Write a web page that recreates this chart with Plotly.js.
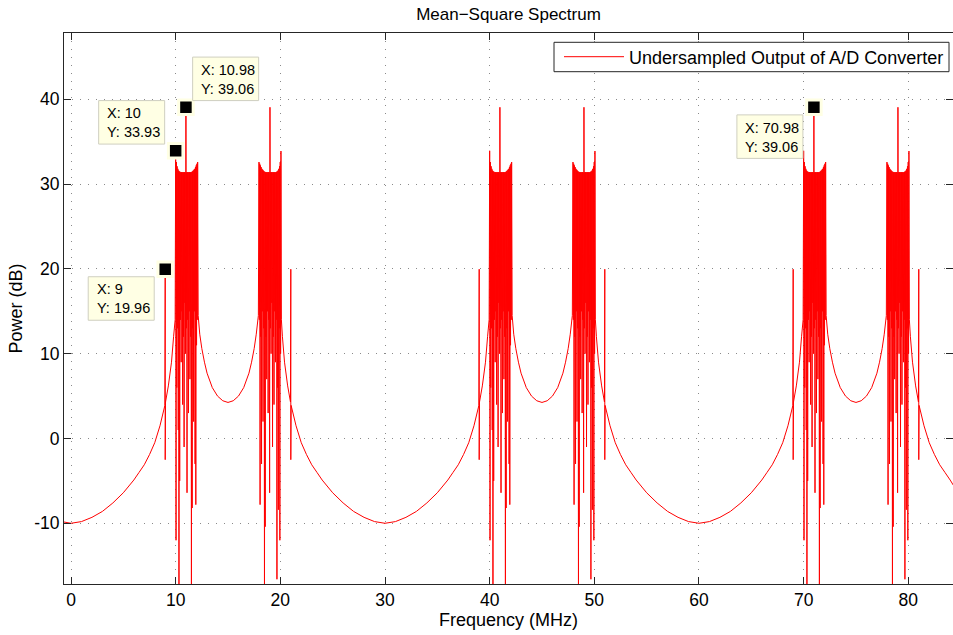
<!DOCTYPE html>
<html>
<head>
<meta charset="utf-8">
<script src="https://cdn.plot.ly/plotly-3.0.1.min.js"></script>
<style>
html,body{margin:0;padding:0;background:#fff;}
#chart{width:953px;height:635px;}
</style>
</head>
<body>
<div id="chart"></div>
<script>
// ---------- data ----------
const seriesName = 'Undersampled Output of A/D Converter';

// smooth floor from the left edge up to the first band (with the lone spur at 9 MHz)
const floorStartFreq  = [-0.67, 0, 1, 2, 3, 4, 5, 6, 6.5, 7, 7.5, 8, 8.5, 8.97, 9.0, 9.0, 9.03, 9.3, 9.6, 9.8, 9.95];
const floorStartPower = [-9.85, -10, -9.8, -9.3, -8.6, -7.6, -6.4, -4.9, -4.0, -3.1, -1.9, -0.5, 1.5, 3.9, 19.96, -2.5, 4.3, 6.2, 9.0, 12.0, 14.0];

// lower image band (10–12.1 MHz, repeated at 40 and 70 MHz): alternating peak / dip samples
const bandLowerStart = [10.0, 40.0, 70.0];
const bandLowerPower = [
  33.93, -12, 32.6, 6, 32.1, 13, 31.8, 1, 31.6, -19, 31.5, -5, 31.45, 14, 31.4, 9,
  31.4, 15, 31.4, 4, 31.4, 12, 31.4, -1, 31.4, 16, 31.4, 10, 39.06, 13, 31.4, -6.4,
  31.4, 14, 31.4, 3, 31.4, 15, 31.4, 7, 31.4, 12, 31.4, -20, 31.45, -8.2, 31.5, 13,
  31.6, 2, 31.7, 15, 31.8, -3, 32.0, -7.8, 32.2, 11, 32.4, 14, 32.6
];

// upper image band (≈18–20.06 MHz, repeated at 48 and 78 MHz)
const bandUpperStart = [17.96, 47.96, 77.96];
const bandUpperPower = [
  32.6, 14, 32.4, -7.8, 32.2, 12, 32.0, -3, 31.8, 15, 31.7, 2, 31.6, 13, 31.5, -20,
  31.45, -10.4, 31.4, 12, 31.4, 7, 31.4, 15, 31.4, 3, 31.4, 14, 31.4, -6.4, 39.06, 13,
  31.4, 10, 31.4, 16, 31.4, -1, 31.4, 12, 31.4, 4, 31.4, 15, 31.4, 9, 31.4, 14,
  31.45, -16.6, 31.5, 6, 31.6, -8.4, 31.8, 13, 32.1, -12, 32.6, 10, 33.9
];
const bandStep = 0.035; // MHz between samples inside a band

// floor between the two bands of a pair (minimum near 15, 45, 75 MHz)
const innerGapFreq1 = [12.15, 12.3, 12.5, 12.75, 13, 13.5, 14, 14.5, 15, 15.5, 16, 16.5, 17, 17.25, 17.5, 17.7, 17.9];
const innerGapFreq2 = [42.15, 42.3, 42.5, 42.75, 43, 43.5, 44, 44.5, 45, 45.5, 46, 46.5, 47, 47.25, 47.5, 47.7, 47.9];
const innerGapFreq3 = [72.15, 72.3, 72.5, 72.75, 73, 73.5, 74, 74.5, 75, 75.5, 76, 76.5, 77, 77.25, 77.5, 77.7, 77.9];
const innerGapPower = [14.5, 12.3, 10.6, 9.0, 7.7, 6.0, 5.0, 4.45, 4.25, 4.45, 5.0, 6.0, 7.7, 9.0, 10.6, 12.3, 14.5];

// floor between band pairs (minimum near 30 and 60 MHz, spurs at 21/39 and 51/69 MHz)
const outerGapFreq1 = [20.1, 20.2, 20.4, 20.7, 20.97, 21.0, 21.0, 21.03, 21.5, 22, 22.5, 23, 23.5, 24, 25, 26, 27, 28, 29, 30,
                       31, 32, 33, 34, 35, 36, 36.5, 37, 37.5, 38, 38.5, 38.97, 39.0, 39.0, 39.03, 39.3, 39.6, 39.8, 39.95];
const outerGapFreq2 = [50.1, 50.2, 50.4, 50.7, 50.97, 51.0, 51.0, 51.03, 51.5, 52, 52.5, 53, 53.5, 54, 55, 56, 57, 58, 59, 60,
                       61, 62, 63, 64, 65, 66, 66.5, 67, 67.5, 68, 68.5, 68.97, 69.0, 69.0, 69.03, 69.3, 69.6, 69.8, 69.95];
const outerGapPower = [14.0, 12.0, 9.0, 6.2, 4.3, 19.96, -2.5, 3.9, 1.5, -0.5, -1.9, -3.1, -4.0, -4.9, -6.4, -7.6, -8.6, -9.3, -9.8, -10,
                       -9.8, -9.3, -8.6, -7.6, -6.4, -4.9, -4.0, -3.1, -1.9, -0.5, 1.5, 3.9, 19.96, -2.5, 4.3, 6.2, 9.0, 12.0, 14.0];

// floor after the last band up to the right edge
const floorEndFreq  = [80.1, 80.2, 80.4, 80.7, 80.97, 81.0, 81.0, 81.03, 81.5, 82, 82.5, 83, 83.5, 84, 84.3];
const floorEndPower = [14.0, 12.0, 9.0, 6.2, 4.3, 19.96, -2.5, 3.9, 1.5, -0.5, -1.9, -3.1, -4.0, -4.9, -5.5];

// data tips
const tipFreq  = [9, 10, 10.98, 70.98];
const tipPower = [19.96, 33.93, 39.06, 39.06];

// ticks
const xTickVals = [0, 10, 20, 30, 40, 50, 60, 70, 80];
const xTickText = ['0', '10', '20', '30', '40', '50', '60', '70', '80'];
const yTickVals = [-10, 0, 10, 20, 30, 40];
const yTickText = ['-10', '0', '10', '20', '30', '40'];

// ---------- assemble the single spectrum trace ----------
const specX = [], specY = [];
function addSeg(fx, py) { for (let i = 0; i < py.length; i++) { specX.push(fx[i]); specY.push(py[i]); } }
function addBand(start, py) {
  for (let i = 0; i < py.length; i++) { specX.push(Math.round((start + i * bandStep) * 10000) / 10000); specY.push(py[i]); }
}
addSeg(floorStartFreq, floorStartPower);
addBand(bandLowerStart[0], bandLowerPower);
addSeg(innerGapFreq1, innerGapPower);
addBand(bandUpperStart[0], bandUpperPower);
addSeg(outerGapFreq1, outerGapPower);
addBand(bandLowerStart[1], bandLowerPower);
addSeg(innerGapFreq2, innerGapPower);
addBand(bandUpperStart[1], bandUpperPower);
addSeg(outerGapFreq2, outerGapPower);
addBand(bandLowerStart[2], bandLowerPower);
addSeg(innerGapFreq3, innerGapPower);
addBand(bandUpperStart[2], bandUpperPower);
addSeg(floorEndFreq, floorEndPower);

const FONT = 'Liberation Sans, Arial, Helvetica, sans-serif';
const CREAM = '#ffffe4';
const AXC = '#262626';

const traces = [
  {
    x: specX, y: specY, type: 'scatter', mode: 'lines', name: seriesName,
    line: {color: '#ff0000', width: 1, simplify: false}, hoverinfo: 'skip'
  },
  {
    x: tipFreq, y: tipPower, type: 'scatter', mode: 'markers', showlegend: false,
    marker: {symbol: 'square', size: 14.5, color: '#000000', line: {color: CREAM, width: 3}},
    cliponaxis: false, hoverinfo: 'skip'
  }
];

// legend frame (paper fractions of the plot area)
const legendFrame = {x0: 490 / 889, x1: 885 / 889, y0: (584 - 71.7) / 551, y1: (584 - 42.3) / 551};

const shapes = [{
  type: 'rect', xref: 'paper', yref: 'paper',
  x0: legendFrame.x0, x1: legendFrame.x1, y0: legendFrame.y0, y1: legendFrame.y1,
  line: {color: AXC, width: 1}, fillcolor: '#ffffff', layer: 'above'
}];

// data-tip boxes: offsets of the box (left, top) from the marker, in pixels
const boxLeft = [-77, -77, 6.7, -77];
const boxTop  = [7.5, -50.2, -50.2, 7.6];
const boxW = 66, boxH = 43.5;
const annotations = [];
for (let i = 0; i < tipFreq.length; i++) {
  shapes.push({
    type: 'rect', xref: 'x', yref: 'y', xsizemode: 'pixel', ysizemode: 'pixel',
    xanchor: tipFreq[i], yanchor: tipPower[i],
    x0: boxLeft[i], x1: boxLeft[i] + boxW, y0: -boxTop[i], y1: -(boxTop[i] + boxH),
    fillcolor: CREAM, line: {color: '#cfcfc0', width: 1}, layer: 'above'
  });
  annotations.push({
    x: tipFreq[i], y: tipPower[i], xref: 'x', yref: 'y',
    text: 'X: ' + tipFreq[i] + '<br>Y: ' + tipPower[i], showarrow: false, align: 'left',
    xanchor: 'left', yanchor: 'middle', xshift: boxLeft[i] + 6.5, yshift: -(boxTop[i] + boxH / 2 + 0.5),
    font: {family: FONT, size: 14.5, color: '#000'}
  });
}

const axisCommon = {
  tickmode: 'array', ticks: 'inside', ticklen: 7, tickwidth: 1, tickcolor: AXC,
  showline: true, linecolor: AXC, linewidth: 1, mirror: 'ticks',
  showgrid: true, gridcolor: '#8a8a8a', gridwidth: 1, griddash: '1px,7px',
  zeroline: false, tickfont: {family: FONT, size: 17.5, color: '#000'}, automargin: false
};

const layout = {
  width: 953, height: 635,
  margin: {l: 64, r: 0, t: 33, b: 51, pad: 0},
  paper_bgcolor: '#ffffff', plot_bgcolor: '#ffffff',
  font: {family: FONT, size: 17, color: '#000'},
  title: {text: 'Mean\u2212Square Spectrum', font: {family: FONT, size: 17, color: '#000'},
          x: 0.5, xref: 'paper', xanchor: 'center', y: 1 - 14.5 / 635, yref: 'container', yanchor: 'middle'},
  xaxis: Object.assign({}, axisCommon, {
    range: [-0.67, 84.27], tickvals: xTickVals, ticktext: xTickText,
    title: {text: 'Frequency (MHz)', font: {family: FONT, size: 18, color: '#000'}, standoff: 4}
  }),
  yaxis: Object.assign({}, axisCommon, {
    range: [-17.16, 47.82], tickvals: yTickVals, ticktext: yTickText,
    title: {text: 'Power (dB)', font: {family: FONT, size: 18, color: '#000'}, standoff: 6}
  }),
  showlegend: true,
  legend: {
    x: 885 / 889, xanchor: 'right', y: (legendFrame.y0 + legendFrame.y1) / 2, yanchor: 'middle',
    bgcolor: 'rgba(0,0,0,0)', borderwidth: 0, itemwidth: 60,
    font: {family: FONT, size: 18, color: '#000'}
  },
  shapes: shapes,
  annotations: annotations,
  hovermode: false
};

Plotly.newPlot('chart', traces, layout, {displayModeBar: false, staticPlot: true});
</script>
</body>
</html>
